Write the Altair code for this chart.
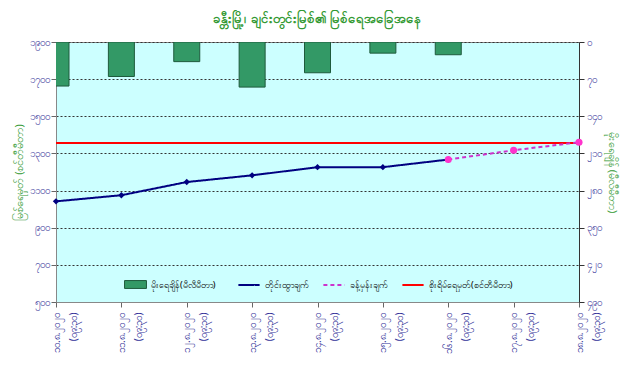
import altair as alt
import pandas as pd

# ---- data ----
dates = ["၁၀.၈.၂၀၂၀", "၁၁.၈.၂၀၂၀", "၁၂.၈.၂၀၂၀", "၁၃.၈.၂၀၂၀", "၁၄.၈.၂၀၂၀",
         "၁၅.၈.၂၀၂၀", "၁၆.၈.၂၀၂၀", "၁၇.၈.၂၀၂၀", "၁၈.၈.၂၀၂၀"]
time_label = "(၀၉:၃၀)"
rain = [83, 65, 37, 85, 58, 21, 24, None, None]
measured = [1042, 1075, 1146, 1182, 1226, 1226, 1267, None, None]
forecast = [None, None, None, None, None, None, 1267, 1317, 1360]
danger_level = 1356

left_ticks = [500, 700, 900, 1100, 1300, 1500, 1700, 1900]
left_labels = ["၅၀၀", "၇၀၀", "၉၀၀", "၁၁၀၀", "၁၃၀၀", "၁၅၀၀", "၁၇၀၀", "၁၉၀၀"]
right_ticks = [0, 70, 140, 210, 280, 350, 420, 490]
right_labels = ["၀", "၇၀", "၁၄၀", "၂၁၀", "၂၈၀", "၃၅၀", "၄၂၀", "၄၉၀"]

title_text = "ခန္တီးမြို့၊ ချင်းတွင်းမြစ်၏ မြစ်ရေအခြေအနေ"
left_title = "မြစ်ရေမှတ် (စင်တီမီတာ)"
right_title = "မိုးရေချိန် (မီလီမီတာ)"
s_rain = "မိုးရေချိန်(မီလီမီတာ)"
s_meas = "တိုင်းထွာချက်"
s_fore = "ခန့်မှန်းချက်"
s_danger = "စိုးရိမ်ရေမှတ်(စင်တီမီတာ)"

FONT = "Noto Sans"
LABEL_COLOR = "#333399"
GREEN = "#339933"

cats = [f"{d}|{time_label}" for d in dates]

rain_df = pd.DataFrame({"cat": cats, "rain": rain, "rs": s_rain}).dropna()
rows = []
for c, m in zip(cats, measured):
    if m is not None:
        rows.append({"cat": c, "level": m, "series": s_meas})
for c, f in zip(cats, forecast):
    if f is not None:
        rows.append({"cat": c, "level": f, "series": s_fore})
line_df = pd.DataFrame(rows)
rule_df = pd.DataFrame({"level": [danger_level], "series": [s_danger]})


def lab_expr(ticks, labels):
    e = "''"
    for t, l in reversed(list(zip(ticks, labels))):
        e = f"datum.value == {t} ? '{l}' : ({e})"
    return e


x_enc = alt.X("cat:N", sort=None,
              scale=alt.Scale(type="point", padding=0, domain=cats),
              axis=alt.Axis(title=None, labelAngle=270, labelExpr="split(datum.label, '|')",
                            labelColor=LABEL_COLOR, labelFontSize=10, labelFont=FONT,
                            tickColor="#666", domainColor="#888", tickSize=5,
                            labelPadding=5, labelLineHeight=17))

y_left = alt.Y("level:Q",
               scale=alt.Scale(domain=[500, 1900], nice=False, zero=False),
               axis=alt.Axis(values=left_ticks, labelExpr=lab_expr(left_ticks, left_labels),
                             title=left_title, titleColor=GREEN, titleFont=FONT,
                             titleFontSize=11, titleFontWeight="normal",
                             labelColor=LABEL_COLOR, labelFontSize=10, labelFont=FONT,
                             grid=True, gridColor="#333", gridDash=[2, 2], gridWidth=1,
                             domainColor="#888", tickColor="#666", tickSize=5, titlePadding=5))

stroke_scale = alt.Scale(domain=[s_meas, s_fore, s_danger],
                         range=["#000080", "#CC33CC", "#FF0000"])
dash_scale = alt.Scale(domain=[s_meas, s_fore, s_danger],
                       range=[[1, 0], [4, 3], [1, 0]])
line_legend = alt.Legend(orient="none", legendX=181, legendY=231, direction="horizontal",
                         title=None, symbolType="stroke", symbolSize=450,
                         symbolStrokeWidth=2, labelFont=FONT, labelFontSize=9,
                         labelColor="#000", columnPadding=10, labelOffset=4)

stroke_enc = alt.Stroke("series:N", scale=stroke_scale, legend=line_legend)
dash_enc = alt.StrokeDash("series:N", scale=dash_scale, legend=line_legend)

bars = alt.Chart(rain_df).mark_bar(size=26, clip=True, stroke="#1E5A3C", strokeWidth=1).encode(
    x=x_enc,
    y=alt.Y("rain:Q",
            scale=alt.Scale(domain=[0, 490], reverse=True, nice=False),
            axis=alt.Axis(orient="right", values=right_ticks,
                          labelExpr=lab_expr(right_ticks, right_labels),
                          title=right_title, titleColor=GREEN, titleFont=FONT,
                          titleFontSize=11, titleFontWeight="normal",
                          labelColor=LABEL_COLOR, labelFontSize=10, labelFont=FONT,
                          grid=False, domainColor="#333", tickColor="#333", tickSize=5,
                          titlePadding=5)),
    fill=alt.Fill("rs:N", scale=alt.Scale(domain=[s_rain], range=["#339966"]),
                  legend=alt.Legend(orient="none", legendX=68, legendY=231,
                                    title=None, symbolType="M-1,-0.36H1V0.36H-1Z",
                                    symbolSize=480, symbolStrokeColor="#1E5A3C",
                                    symbolStrokeWidth=1, labelFont=FONT,
                                    labelFontSize=9, labelColor="#000")),
)

rule = alt.Chart(rule_df).mark_rule(strokeWidth=2).encode(
    y=y_left, stroke=stroke_enc, strokeDash=dash_enc)

lines = alt.Chart(line_df).mark_line(strokeWidth=2).encode(
    x=x_enc, y=y_left, stroke=stroke_enc, strokeDash=dash_enc)

pts_m = alt.Chart(line_df).transform_filter(alt.datum.series == s_meas).mark_point(
    shape="diamond", filled=True, size=40, color="#000080", opacity=1).encode(x=x_enc, y=y_left)

pts_f = alt.Chart(line_df).transform_filter(alt.datum.series == s_fore).mark_point(
    shape="circle", filled=True, size=50, color="#FF33CC", opacity=1).encode(x=x_enc, y=y_left)

right_part = alt.layer(rule, lines, pts_m, pts_f)

chart = alt.layer(bars, right_part).resolve_scale(
    y="independent", stroke="shared", strokeDash="shared"
).properties(
    width=523, height=260,
    title=alt.TitleParams(title_text, font=FONT, fontSize=13, fontWeight="bold",
                          color=GREEN, anchor="middle", offset=11),
    background="white",
).configure_view(
    fill="#CCFFFF", stroke="#888", strokeWidth=1
).configure_legend(
    padding=0
)

chart.save("out.html", embed_options={"renderer": "svg", "actions": False})
